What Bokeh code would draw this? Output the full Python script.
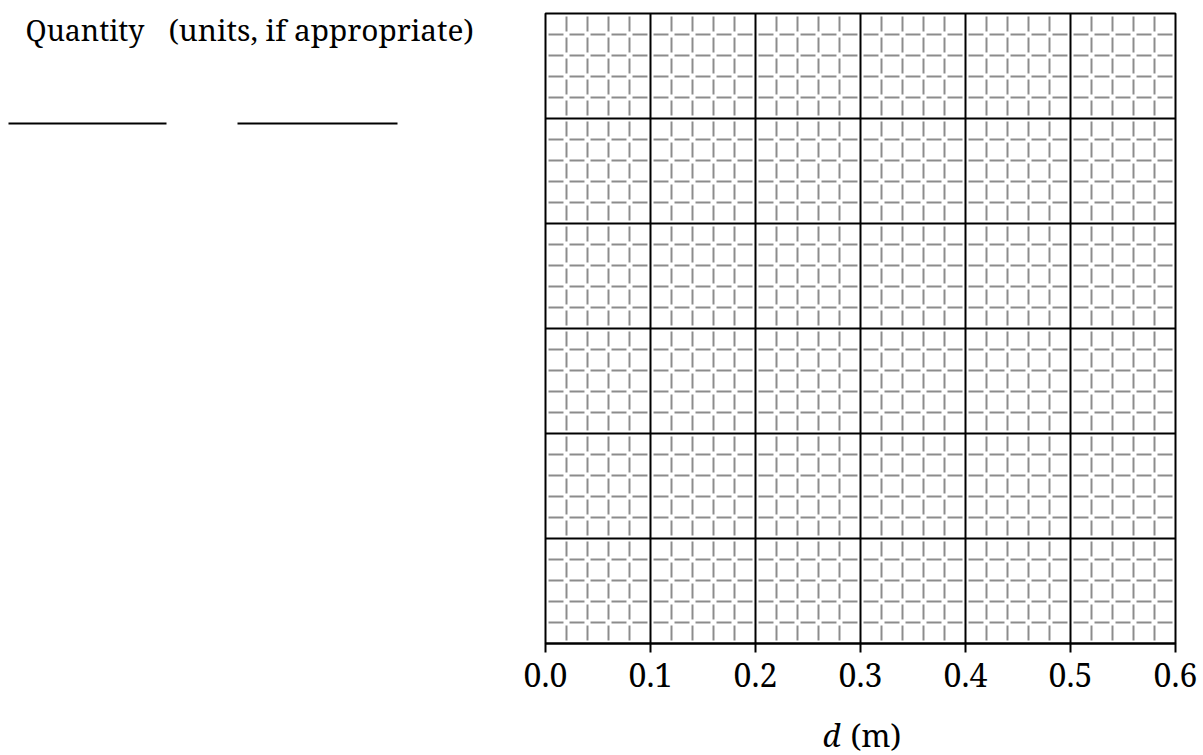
from bokeh.plotting import figure
from bokeh.models import FixedTicker, Range1d
from bokeh.layouts import row, column
from bokeh.core.properties import value
from bokeh.embed import file_html
from bokeh.resources import INLINE

# ---- data ----
x_major = [0.0, 0.1, 0.2, 0.3, 0.4, 0.5, 0.6]
x_tick_labels = ["0.0", "0.1", "0.2", "0.3", "0.4", "0.5", "0.6"]
x_minor = [round(0.02 * i, 2) for i in range(31) if i % 5 != 0]
y_major = [0, 1, 2, 3, 4, 5, 6]
y_minor = [round(0.2 * i, 1) for i in range(31) if i % 5 != 0]
x_label_var = "d"
x_label_unit = "(m)"
quantity_text = "Quantity"
units_text = "(units, if appropriate)"

FONT = "Noto Serif, DejaVu Serif, serif"


def blank_panel(w, h):
    f = figure(width=w, height=h, frame_width=w, frame_height=h, title=None,
               x_range=Range1d(0, w), y_range=Range1d(h, 0),
               output_backend="svg", toolbar_location=None,
               min_border_left=0, min_border_right=0, min_border_top=0, min_border_bottom=0)
    f.axis.visible = False
    f.grid.visible = False
    f.outline_line_color = None
    return f


# ---- left panel (instruction text and blanks) ----
LW, H = 515, 755
left = blank_panel(LW, H)
left.text(x=[25], y=[29], text=[quantity_text], text_font=value(FONT),
          text_font_size="28.5px", text_color="black", text_baseline="middle")
left.text(x=[168], y=[29], text=[units_text], text_font=value(FONT),
          text_font_size="29.8px", text_color="black", text_baseline="middle")
left.segment(x0=[8, 237], y0=[123, 123], x1=[166, 397], y1=[123, 123],
             line_color="black", line_width=2)

# ---- graph paper ----
BL, BR = 30, 28
RW, PH = BL + 630 + BR, 705
p = figure(width=RW, height=PH, frame_width=630, frame_height=630, title=None,
           x_range=Range1d(0, 0.6), y_range=Range1d(0, 6),
           output_backend="svg", toolbar_location=None,
           min_border_left=BL, min_border_right=BR, min_border_top=13, min_border_bottom=62)

p.yaxis.visible = False
p.xgrid.ticker = FixedTicker(ticks=x_major, minor_ticks=x_minor)
p.ygrid.ticker = FixedTicker(ticks=y_major, minor_ticks=y_minor)
p.grid.grid_line_color = "black"
p.grid.grid_line_width = 2
p.grid.grid_line_alpha = 1.0
p.grid.minor_grid_line_color = "#8c8c8c"
p.grid.minor_grid_line_width = 2
p.grid.minor_grid_line_dash = "0 3 15 3"

p.outline_line_color = "black"
p.outline_line_width = 2
p.outline_line_alpha = 1.0

p.xaxis.ticker = FixedTicker(ticks=x_major)
p.xaxis.major_label_overrides = {t: s for t, s in zip(x_major, x_tick_labels)}
p.xaxis.axis_line_color = "black"
p.xaxis.axis_line_width = 2
p.xaxis.major_tick_line_color = "black"
p.xaxis.major_tick_line_width = 2
p.xaxis.major_tick_in = 0
p.xaxis.major_tick_out = 9
p.xaxis.minor_tick_line_color = None
p.xaxis.major_label_standoff = 10
p.xaxis.major_label_text_font = FONT
p.xaxis.major_label_text_font_size = "32px"
p.xaxis.major_label_text_color = "black"

# ---- x-axis title strip ----
BH = H - PH
cx = BL + 315 - 27
bottom = blank_panel(RW, BH)
bottom.text(x=[cx - 23], y=[29], text=[x_label_var], text_font=value(FONT),
            text_font_size="31px", text_font_style="italic", text_color="black",
            text_align="right", text_baseline="middle")
bottom.text(x=[cx - 13], y=[29], text=[x_label_unit], text_font=value(FONT),
            text_font_size="31px", text_color="black",
            text_align="left", text_baseline="middle")

layout = row(left, column(p, bottom))
open("out.html", "w").write(file_html(layout, INLINE))
